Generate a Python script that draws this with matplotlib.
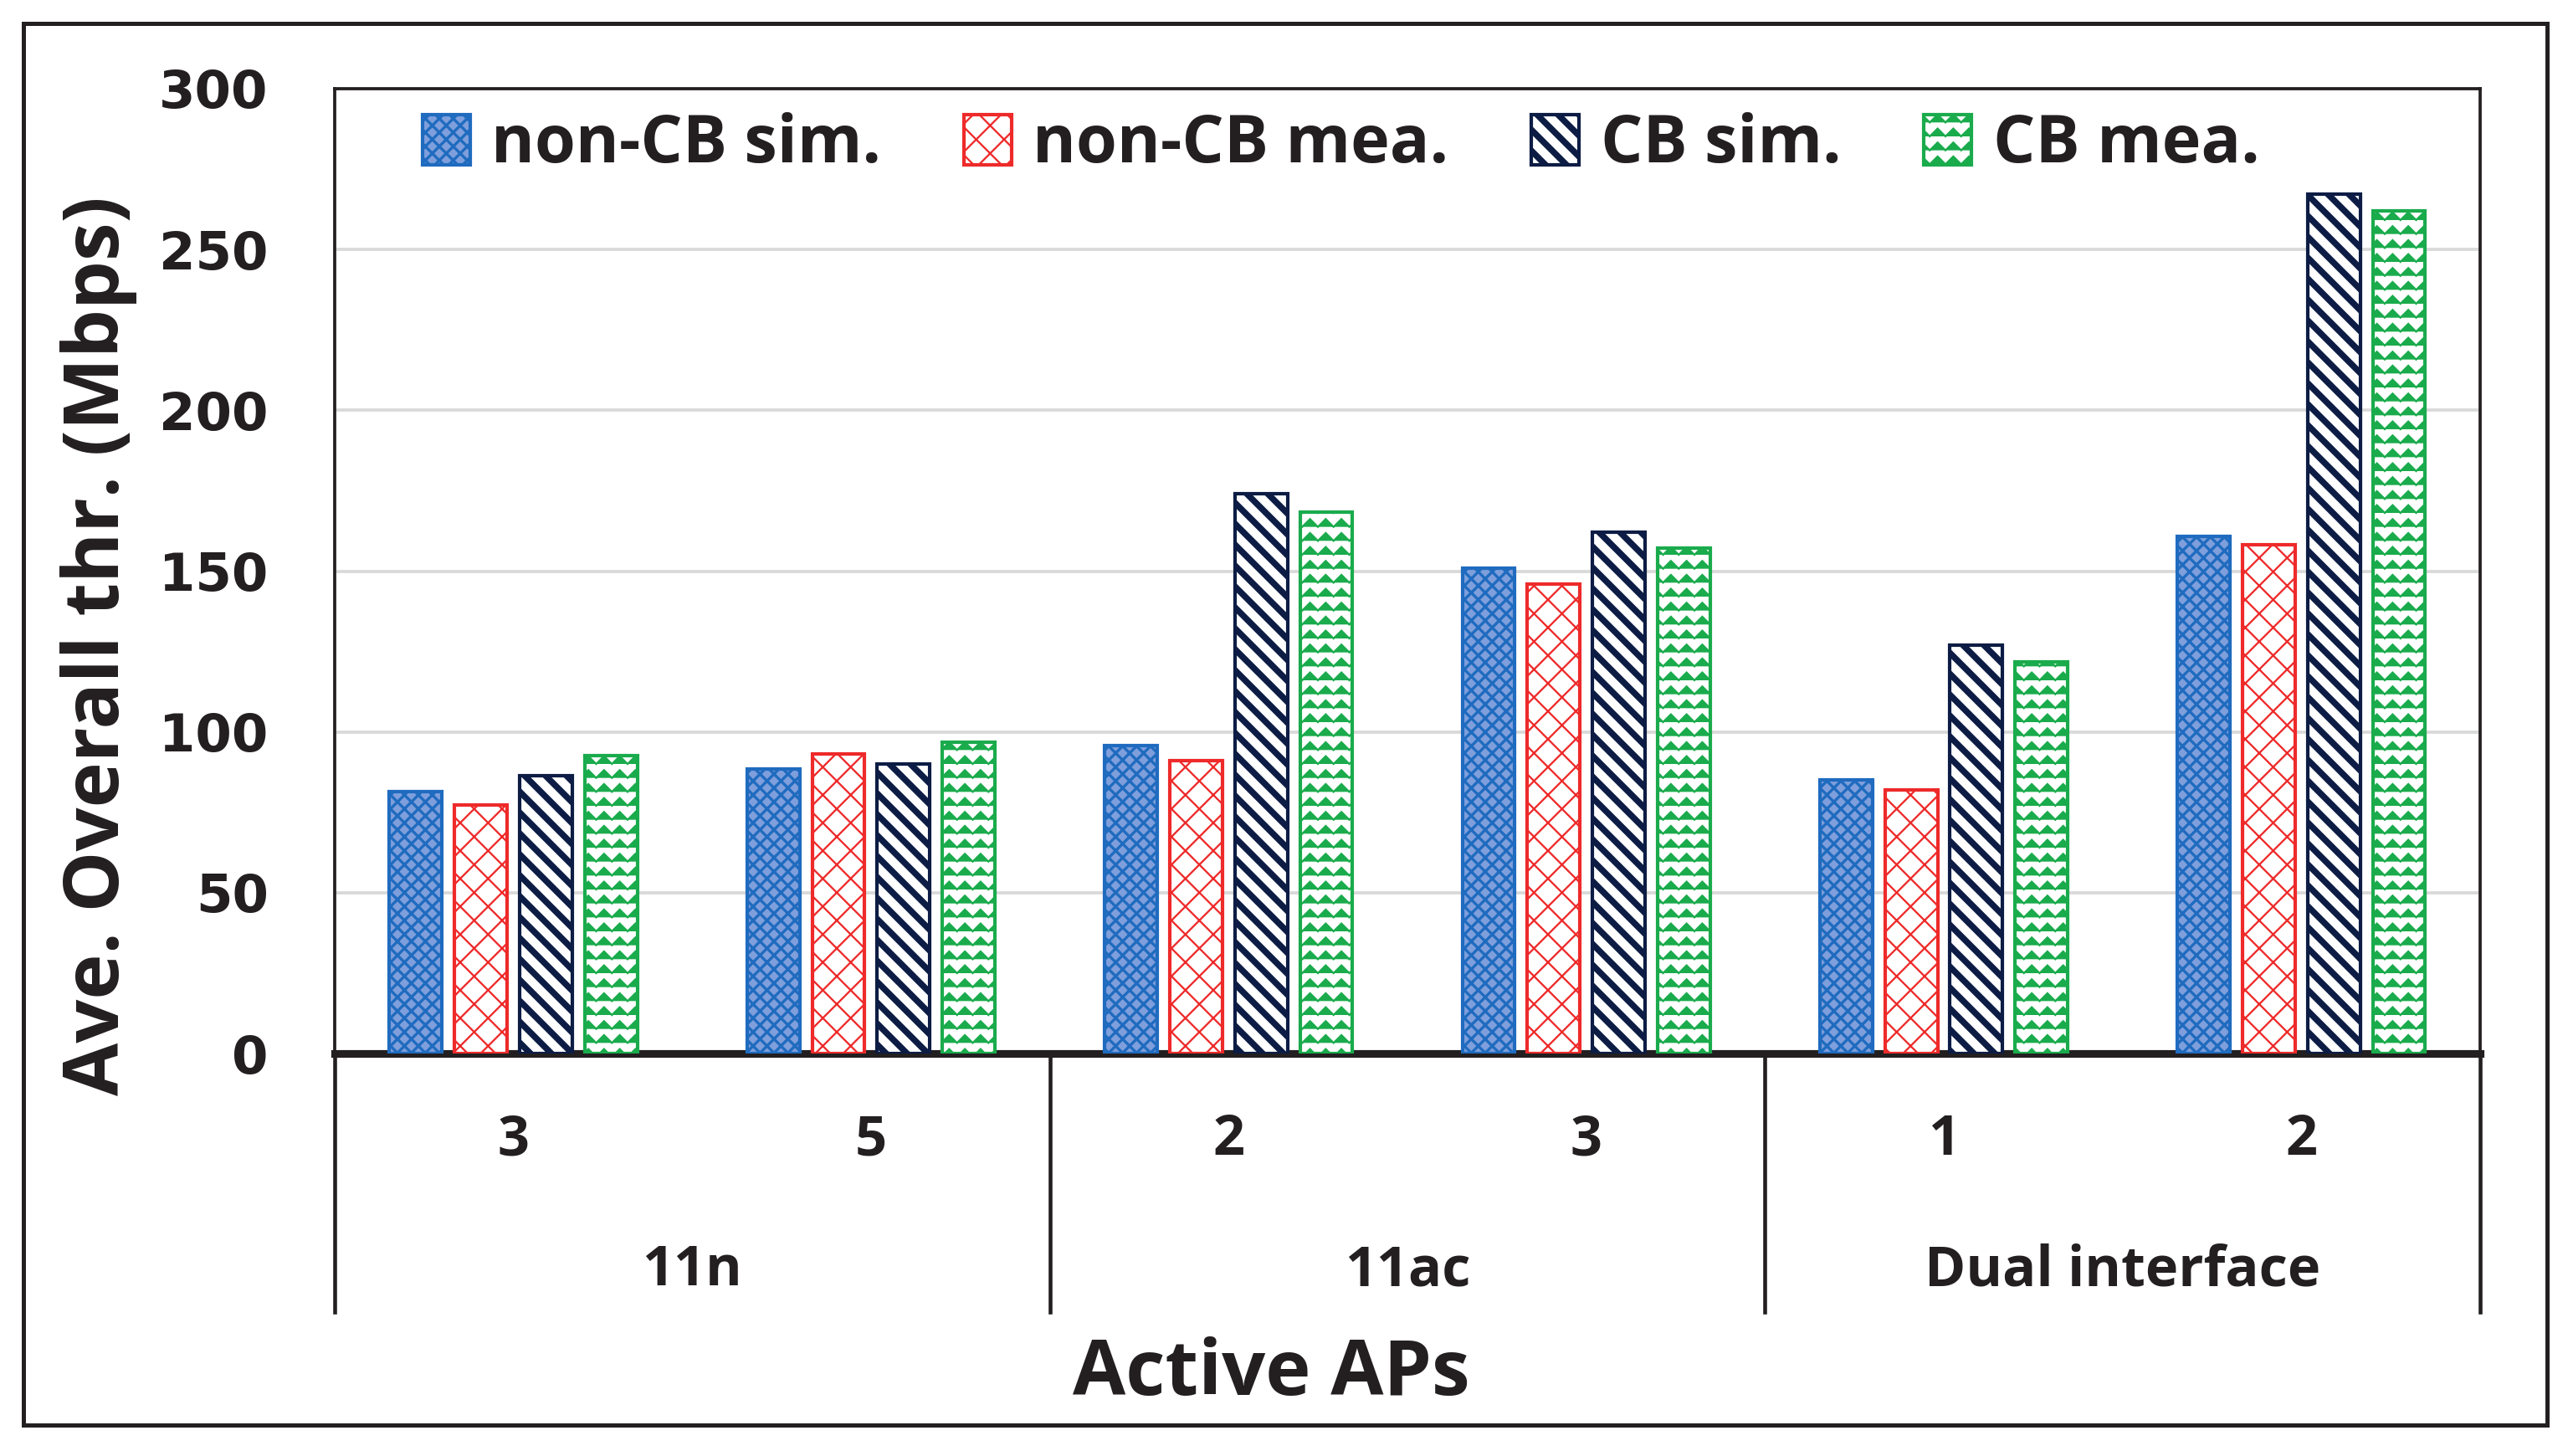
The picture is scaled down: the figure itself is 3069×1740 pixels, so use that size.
import matplotlib
matplotlib.use("Agg")
import matplotlib.pyplot as plt
from matplotlib.patches import Rectangle
from matplotlib.lines import Line2D
from matplotlib import hatch as mhatch
from matplotlib.path import Path
import numpy as np
import warnings
warnings.filterwarnings("ignore")

plt.rcParams['font.family'] = ['Open Sans', 'DejaVu Sans']
plt.rcParams['font.weight'] = 'bold'
plt.rcParams['hatch.linewidth'] = 0.6


class ZigZagHatch(mhatch.HatchPatternBase):
    """Wavy rows pattern, triggered by '~' in the hatch string."""
    def __init__(self, hatch, density):
        self.num_rows = int(hatch.count('~') * density)
        self.periods = max(self.num_rows - 2, 1)
        self.pts = self.periods * 2 + 1
        self.num_vertices = self.num_rows * self.pts

    def set_vertices_and_codes(self, vertices, codes):
        if self.num_rows == 0:
            return
        ys, dy = np.linspace(0.0, 1.0, self.num_rows, False, retstep=True)
        ys += dy / 2
        xs = np.linspace(0.0, 1.0, self.pts)
        amp = dy * 0.28
        off = np.where(np.arange(self.pts) % 2 == 0, -amp, amp)
        for r, y in enumerate(ys):
            seg = slice(r * self.pts, (r + 1) * self.pts)
            vertices[seg, 0] = xs
            vertices[seg, 1] = y + off
            codes[seg] = Path.LINETO
            codes[r * self.pts] = Path.MOVETO


if ZigZagHatch not in mhatch._hatch_types:
    mhatch._hatch_types.append(ZigZagHatch)

groups = ["11n", "11ac", "Dual interface"]
sub_labels = ["3", "5", "2", "3", "1", "2"]
group_sizes = [2, 2, 2]
series_names = ["non-CB sim.", "non-CB mea.", "CB sim.", "CB mea."]
non_cb_sim = [81.4, 88.5, 95.7, 151.0, 85.0, 160.7]
non_cb_mea = [77.3, 93.2, 91.1, 145.9, 81.9, 158.2]
cb_sim = [86.5, 90.0, 174.0, 162.2, 126.9, 267.1]
cb_mea = [92.6, 96.7, 168.4, 157.1, 121.8, 262.0]
yticks = [0, 50, 100, 150, 200, 250, 300]

series = [non_cb_sim, non_cb_mea, cb_sim, cb_mea]
edge_colors = ["#1f6bbf", "#ee2a2a", "#0c1c44", "#1aab4c"]
face_colors = ["#7f9fdc", "white", "white", "white"]
hatches = ["xxxxxx", "xxx", "\\\\\\\\", "~~~"]
hatch_lws = [0.8, 0.55, 1.8, 0.55]

fig = plt.figure(figsize=(3069/300, 1740/300), dpi=300)
ax = fig.add_axes([0.1303, 0.2764, 0.8355, 0.6627])

n = len(sub_labels)
x = np.arange(n)
width = 0.147
step = 0.182
offsets = (np.arange(4) - 1.5) * step
for vals, off, ec, fc, h, name, hlw in zip(series, offsets, edge_colors, face_colors, hatches,
                                          series_names, hatch_lws):
    bc = ax.bar(x + off, vals, width=width, facecolor=fc, edgecolor=ec, hatch=h,
                linewidth=1.0, label=name, zorder=3)
    for p in bc.patches:
        try:
            p.set_hatch_linewidth(hlw)
        except Exception:
            pass

ax.set_xlim(-0.5, n - 0.5)
ax.set_ylim(0, 300)
ax.set_yticks(yticks)
ax.set_yticklabels([str(v) for v in yticks], fontsize=15, fontweight='bold', color='#231f20',
                   family=['DejaVu Sans'])
ax.tick_params(axis='y', length=0, pad=19)
ax.set_xticks([])
ax.yaxis.grid(True, color='#d9d9d9', linewidth=0.9, zorder=0)
ax.set_axisbelow(True)
for s in ['left', 'top', 'right']:
    ax.spines[s].set_linewidth(0.9)
    ax.spines[s].set_color('#231f20')
ax.spines['bottom'].set_linewidth(2.2)
ax.spines['bottom'].set_color('#231f20')

ax.set_ylabel("Ave. Overall thr. (Mbps)", fontsize=22, fontweight='bold', color='#231f20')
ax.yaxis.set_label_coords(-0.092, 0.423)

# category axis below
trans = ax.get_xaxis_transform()
for i, lab in enumerate(sub_labels):
    ax.text(i, -0.090, lab, transform=trans, ha='center', va='center', fontsize=16,
            fontweight='bold', color='#231f20')
start = 0
bounds = [-0.5]
for g, size in zip(groups, group_sizes):
    center = start + (size - 1) / 2
    ax.text(center, -0.225, g, transform=trans, ha='center', va='center', fontsize=16,
            fontweight='bold', color='#231f20')
    start += size
    bounds.append(start - 0.5)
for b in bounds:
    ax.add_line(Line2D([b, b], [0, -0.268], transform=trans, color='#231f20',
                       linewidth=1.1, clip_on=False))

fig.text(0.495, 0.056, "Active APs", ha='center', va='center', fontsize=22,
         fontweight='bold', color='#231f20')

leg = ax.legend(loc='center', bbox_to_anchor=(0.469, 0.941), ncol=4, frameon=False,
                fontsize=19, handlelength=0.72, handleheight=0.8, handletextpad=0.32,
                columnspacing=1.25, borderaxespad=0.0)
for t in leg.get_texts():
    t.set_fontweight('bold')
    t.set_color('#231f20')
for h, hlw in zip(leg.legend_handles, hatch_lws):
    try:
        h.set_hatch_linewidth(hlw)
    except Exception:
        pass

fig.patches.append(Rectangle((0.0091, 0.0213), 0.9829, 0.9627, transform=fig.transFigure,
                             fill=False, edgecolor='#231f20', linewidth=1.2))

fig.savefig("out.png", dpi=300)
